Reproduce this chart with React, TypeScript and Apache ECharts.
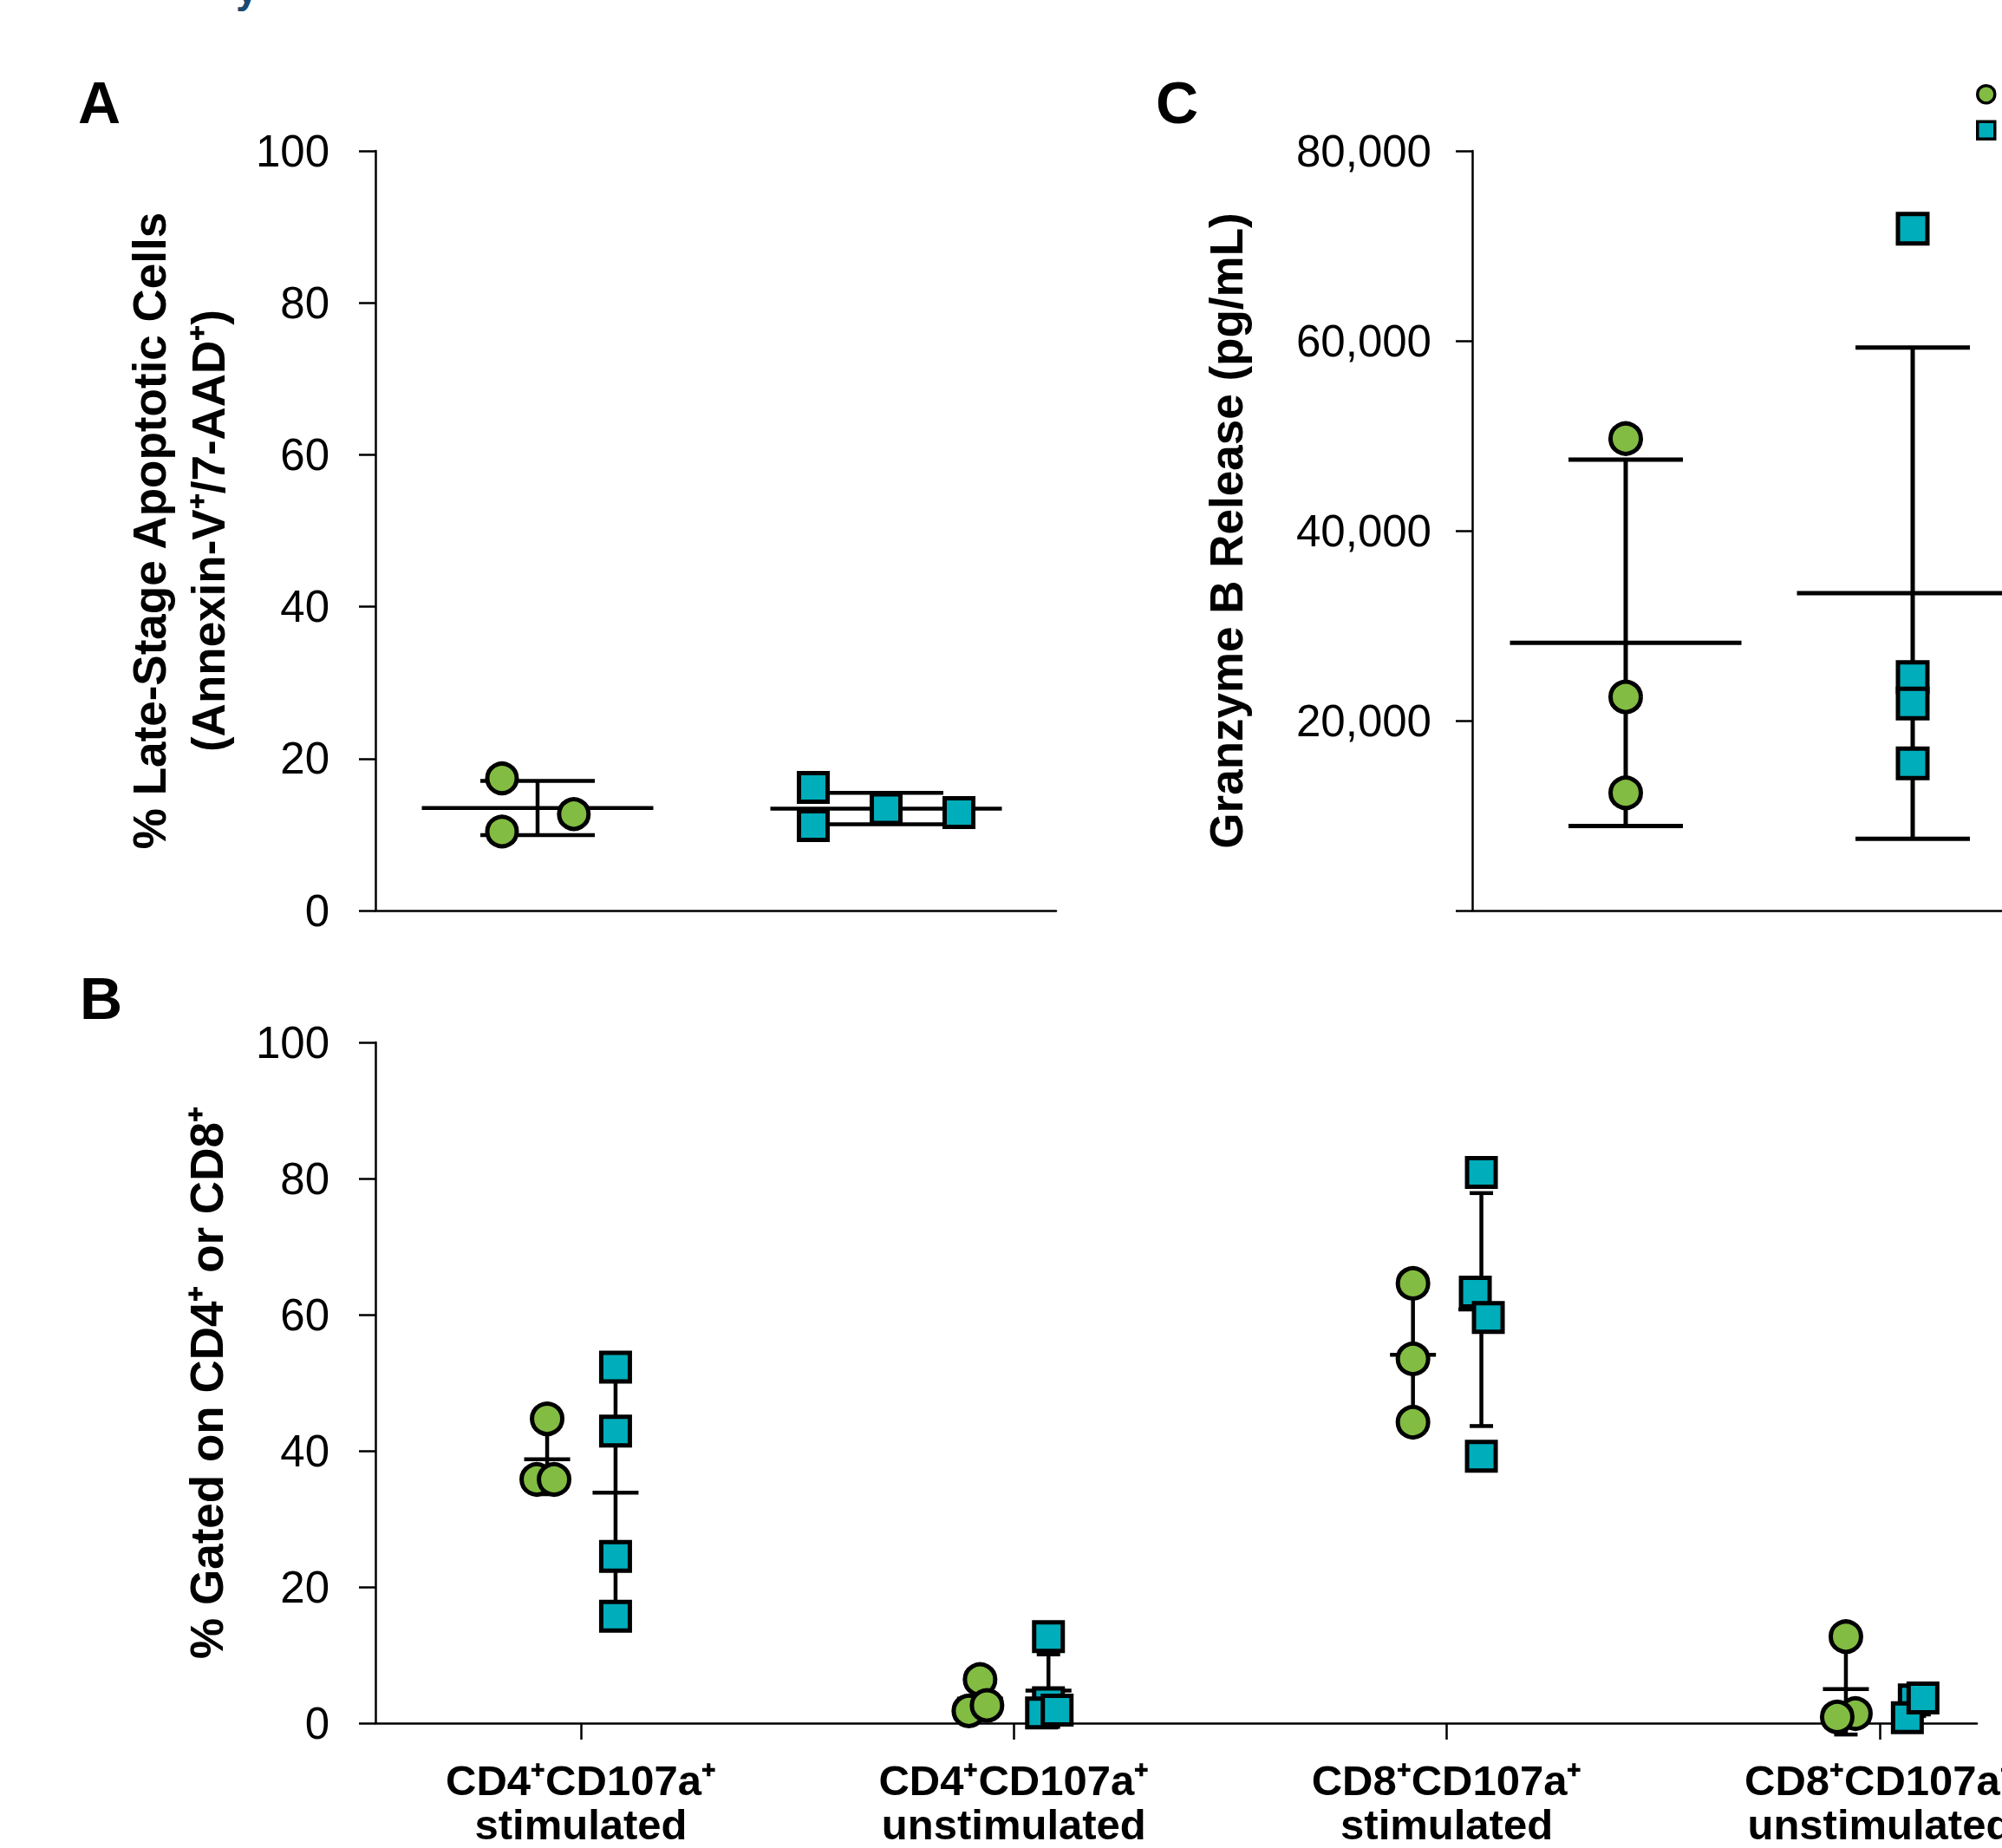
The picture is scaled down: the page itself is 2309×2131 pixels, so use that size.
import React, { useEffect, useRef } from 'react';
import * as echarts from 'echarts';

const W = 2309;
const H = 2131;
const FONT = "'Liberation Sans', Arial, Helvetica, sans-serif";
const GREEN = '#82bc42';
const CYAN = '#00adbb';
const HEAD_BLUE = '#1a4a72';

// legend labels are cropped off in the reference; only the markers show
const groupNames = ['Group 1', 'Group 2'];

// ---------- Panel A ----------
const aTitle = '% Late-Stage Apoptotic Cells\n(Annexin-V⁺/7-AAD⁺)';
const aGreen = [17.4, 10.4, 12.7];
const aGreenSpread = [-0.102, -0.102, 0.104];
const aCyan = [16.2, 11.2, 13.4, 12.9];
const aCyanSpread = [-0.209, -0.209, 0, 0.209];

// ---------- Panel C ----------
const cTitle = 'Granzyme B Release (pg/mL)';
const cGreen = [49700, 22500, 12400];
const cCyan = [71800, 24600, 21800, 15500];

// ---------- Panel B ----------
const bTitle = '% Gated on CD4⁺ or CD8⁺';
const bCategories = [
  'CD4⁺CD107a⁺\nstimulated',
  'CD4⁺CD107a⁺\nunstimulated',
  'CD8⁺CD107a⁺\nstimulated',
  'CD8⁺CD107a⁺\nunstimulated',
];
const bGreen = [
  [44.7, 35.8, 35.8],
  [6.4, 1.8, 2.6],
  [64.6, 53.5, 44.2],
  [12.7, 1.4, 0.9],
];
const bGreenSpread = [
  [0, -0.024, 0.016],
  [0, -0.026, 0.016],
  [0, 0, 0],
  [0, 0.022, -0.02],
];
const bCyan = [
  [52.3, 42.9, 24.5, 15.7],
  [12.7, 3.0, 1.5, 1.9],
  [80.9, 63.3, 59.6, 39.2],
  [3.4, 0.8, 3.7],
];
const bCyanSpread = [
  [0, 0, 0, 0],
  [0, 0, -0.016, 0.02],
  [0, -0.014, 0.016, 0],
  [0, -0.016, 0.02],
];

// ---------- layout (pixels) ----------
const LAYOUT = {
  A: { left: 433, top: 174, width: 785, height: 876, first: 620, unit: 402 },
  C: { left: 1698, top: 174, width: 611, height: 876, first: 1875, unit: 331 },
  B: { left: 433, top: 1202, width: 1847, height: 785, first: 670, unit: 499.3 },
};
const B_GREEN_OFF = -0.078;
const B_CYAN_OFF = 0.08;

function xRange(l: { left: number; width: number; first: number; unit: number }) {
  const min = 1 - (l.first - l.left) / l.unit;
  return { min, max: min + l.width / l.unit };
}

function meanSd(vals: number[]): [number, number] {
  const n = vals.length;
  const m = vals.reduce((s, v) => s + v, 0) / n;
  const sd = Math.sqrt(vals.reduce((s, v) => s + (v - m) * (v - m), 0) / (n - 1));
  return [m, sd];
}

function errorBar(meanHalf: number, capHalf: number, lw: number) {
  return (_params: any, api: any) => {
    const x = api.value(0);
    const m = api.value(1);
    const s = api.value(2);
    const c = api.coord([x, m]);
    const t = api.coord([x, m + s]);
    const b = api.coord([x, m - s]);
    const style = { stroke: '#000', lineWidth: lw, lineCap: 'butt' };
    return {
      type: 'group',
      children: [
        { type: 'line', shape: { x1: c[0], y1: t[1], x2: c[0], y2: b[1] }, style },
        { type: 'line', shape: { x1: c[0] - meanHalf, y1: c[1], x2: c[0] + meanHalf, y2: c[1] }, style },
        { type: 'line', shape: { x1: c[0] - capHalf, y1: t[1], x2: c[0] + capHalf, y2: t[1] }, style },
        { type: 'line', shape: { x1: c[0] - capHalf, y1: b[1], x2: c[0] + capHalf, y2: b[1] }, style },
      ],
    };
  };
}

const axisLine = { show: true, onZero: false, lineStyle: { color: '#000', width: 2.5 } };
const yTick = { show: true, length: 19, inside: false, lineStyle: { color: '#000', width: 2.5 } };
const yLabel = { color: '#000', fontSize: 51, fontFamily: FONT, margin: 53 };
const titleStyle = { color: '#000', fontSize: 53, fontWeight: 'bold', fontFamily: FONT, lineHeight: 68 };

const circleStyle = { color: GREEN, borderColor: '#000', borderWidth: 5, opacity: 1 };
const squareStyle = { color: CYAN, borderColor: '#000', borderWidth: 5, opacity: 1 };

function buildOption() {
  const ra = xRange(LAYOUT.A);
  const rc = xRange(LAYOUT.C);
  const rb = xRange(LAYOUT.B);

  const aGreenPts = aGreen.map((v, i) => [1 + aGreenSpread[i], v]);
  const aCyanPts = aCyan.map((v, i) => [2 + aCyanSpread[i], v]);
  const aBars = [[1, ...meanSd(aGreen)], [2, ...meanSd(aCyan)]];

  const cGreenPts = cGreen.map((v) => [1, v]);
  const cCyanPts = cCyan.map((v) => [2, v]);
  const cBars = [[1, ...meanSd(cGreen)], [2, ...meanSd(cCyan)]];

  const bGreenPts: number[][] = [];
  const bCyanPts: number[][] = [];
  const bBars: number[][] = [];
  bCategories.forEach((_c, k) => {
    const gx = k + 1 + B_GREEN_OFF;
    const cx = k + 1 + B_CYAN_OFF;
    bGreen[k].forEach((v, i) => bGreenPts.push([gx + bGreenSpread[k][i], v]));
    bCyan[k].forEach((v, i) => bCyanPts.push([cx + bCyanSpread[k][i], v]));
    bBars.push([gx, ...meanSd(bGreen[k])]);
    bBars.push([cx, ...meanSd(bCyan[k])]);
  });

  const scatterBase = { type: 'scatter', clip: false, z: 3, silent: true, emphasis: { disabled: true } };
  const gridBase = { containLabel: false, outerBoundsMode: 'none' };

  return {
    animation: false,
    backgroundColor: '#fff',
    textStyle: { fontFamily: FONT },
    grid: [
      { ...gridBase, left: LAYOUT.A.left, top: LAYOUT.A.top, width: LAYOUT.A.width, height: LAYOUT.A.height },
      { ...gridBase, left: LAYOUT.C.left, top: LAYOUT.C.top, width: LAYOUT.C.width, height: LAYOUT.C.height },
      { ...gridBase, left: LAYOUT.B.left, top: LAYOUT.B.top, width: LAYOUT.B.width, height: LAYOUT.B.height },
    ],
    xAxis: [
      {
        gridIndex: 0, type: 'value', min: ra.min, max: ra.max,
        axisLine, axisTick: { show: false }, axisLabel: { show: false }, splitLine: { show: false },
      },
      {
        gridIndex: 1, type: 'value', min: rc.min, max: rc.max,
        axisLine, axisTick: { show: false }, axisLabel: { show: false }, splitLine: { show: false },
      },
      {
        gridIndex: 2, type: 'value', min: rb.min, max: rb.max,
        axisLine,
        axisTick: { show: true, length: 19, customValues: [1, 2, 3, 4], lineStyle: { color: '#000', width: 2.5 } },
        axisLabel: {
          show: true,
          customValues: [1, 2, 3, 4],
          formatter: (v: number) => bCategories[Math.round(v) - 1] ?? '',
          color: '#000', fontSize: 49, fontWeight: 'bold', fontFamily: FONT, lineHeight: 51, margin: 40,
          align: 'center', hideOverlap: false,
        },
        splitLine: { show: false },
      },
    ],
    yAxis: [
      {
        gridIndex: 0, type: 'value', min: 0, max: 100, interval: 20,
        axisLine, axisTick: yTick, axisLabel: yLabel, splitLine: { show: false },
        name: aTitle, nameLocation: 'middle', nameRotate: 90, nameGap: 159, nameTextStyle: titleStyle,
      },
      {
        gridIndex: 1, type: 'value', min: 0, max: 80000, interval: 20000,
        axisLine, axisTick: yTick,
        axisLabel: { ...yLabel, margin: 47, formatter: (v: number) => (v === 0 ? '' : v.toLocaleString('en-US')) },
        splitLine: { show: false },
        name: cTitle, nameLocation: 'middle', nameRotate: 90, nameGap: 250, nameTextStyle: titleStyle,
      },
      {
        gridIndex: 2, type: 'value', min: 0, max: 100, interval: 20,
        axisLine, axisTick: yTick, axisLabel: yLabel, splitLine: { show: false },
        name: bTitle, nameLocation: 'middle', nameRotate: 90, nameGap: 161, nameTextStyle: titleStyle,
      },
    ],
    legend: {
      orient: 'vertical',
      left: 2279,
      top: 97,
      padding: 0,
      itemWidth: 20,
      itemHeight: 20,
      itemGap: 18,
      selectedMode: false,
      formatter: () => '',
      data: [
        { name: groupNames[0], icon: 'circle', itemStyle: { color: GREEN, borderColor: '#000', borderWidth: 3.5 } },
        { name: groupNames[1], icon: 'rect', itemStyle: { color: CYAN, borderColor: '#000', borderWidth: 3.5 } },
      ],
    },
    graphic: [
      {
        type: 'text', x: 272, y: 10, silent: true,
        style: { text: 'y', fill: HEAD_BLUE, font: `bold 46px ${FONT}`, textAlign: 'left', textVerticalAlign: 'bottom', align: 'left', verticalAlign: 'bottom' },
      },
      {
        type: 'text', x: 90, y: 118, silent: true,
        style: { text: 'A', fill: '#000', font: `bold 68px ${FONT}`, textAlign: 'left', textVerticalAlign: 'middle', align: 'left', verticalAlign: 'middle' },
      },
      {
        type: 'text', x: 92, y: 1151, silent: true,
        style: { text: 'B', fill: '#000', font: `bold 68px ${FONT}`, textAlign: 'left', textVerticalAlign: 'middle', align: 'left', verticalAlign: 'middle' },
      },
      {
        type: 'text', x: 1333, y: 118, silent: true,
        style: { text: 'C', fill: '#000', font: `bold 68px ${FONT}`, textAlign: 'left', textVerticalAlign: 'middle', align: 'left', verticalAlign: 'middle' },
      },
    ],
    series: [
      // error bars (mean ± SD)
      {
        type: 'custom', xAxisIndex: 0, yAxisIndex: 0, z: 2, silent: true,
        renderItem: errorBar(133.5, 66, 4.5), data: aBars, encode: { x: 0, y: 1 },
      },
      {
        type: 'custom', xAxisIndex: 1, yAxisIndex: 1, z: 2, silent: true,
        renderItem: errorBar(133.5, 66, 5), data: cBars, encode: { x: 0, y: 1 },
      },
      {
        type: 'custom', xAxisIndex: 2, yAxisIndex: 2, z: 2, silent: true,
        renderItem: errorBar(26.5, 13.5, 4.5), data: bBars, encode: { x: 0, y: 1 },
      },
      // points
      { ...scatterBase, name: groupNames[0], xAxisIndex: 0, yAxisIndex: 0, symbol: 'circle', symbolSize: 34, itemStyle: circleStyle, data: aGreenPts },
      { ...scatterBase, name: groupNames[1], xAxisIndex: 0, yAxisIndex: 0, symbol: 'rect', symbolSize: 33, itemStyle: squareStyle, data: aCyanPts },
      { ...scatterBase, name: groupNames[0], xAxisIndex: 1, yAxisIndex: 1, symbol: 'circle', symbolSize: 35, itemStyle: circleStyle, data: cGreenPts },
      { ...scatterBase, name: groupNames[1], xAxisIndex: 1, yAxisIndex: 1, symbol: 'rect', symbolSize: 34, itemStyle: squareStyle, data: cCyanPts },
      { ...scatterBase, name: groupNames[0], xAxisIndex: 2, yAxisIndex: 2, symbol: 'circle', symbolSize: 35, itemStyle: circleStyle, data: bGreenPts },
      { ...scatterBase, name: groupNames[1], xAxisIndex: 2, yAxisIndex: 2, symbol: 'rect', symbolSize: 33, itemStyle: squareStyle, data: bCyanPts },
    ],
  };
}

export default function App() {
  const ref = useRef<HTMLDivElement>(null);
  useEffect(() => {
    document.body.style.margin = '0';
    document.body.style.overflow = 'hidden';
    if (!ref.current) return;
    const chart = echarts.init(ref.current, null, { renderer: 'svg', width: W, height: H });
    chart.setOption(buildOption() as any);
    return () => chart.dispose();
  }, []);
  return <div ref={ref} style={{ width: W, height: H, background: '#fff' }} />;
}
